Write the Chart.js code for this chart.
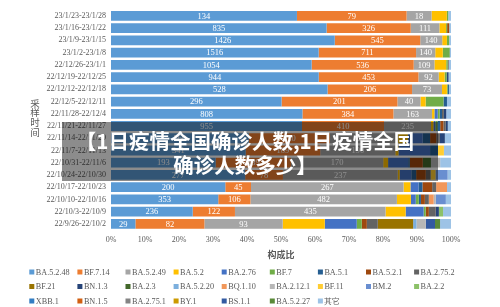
<!DOCTYPE html>
<html><head><meta charset="utf-8">
<script src="https://cdn.jsdelivr.net/npm/chart.js@4.4.0/dist/chart.umd.min.js"></script>
<style>
html,body{margin:0;padding:0;background:#fff;}
#wrap{position:relative;width:500px;height:307px;overflow:hidden;}
#overlay{position:absolute;left:62px;top:122px;width:376px;height:59px;background:rgba(0,0,0,0.45);}
#title{position:absolute;left:0;top:128px;width:490px;text-align:center;color:#fff;font-family:"Noto Sans CJK SC";font-weight:bold;font-size:20.5px;line-height:24px;white-space:nowrap;}
</style></head>
<body>
<div id="wrap">
<canvas id="c" width="500" height="307"></canvas>
<div id="overlay"></div>
<div id="title">【1日疫情全国确诊人数,1日疫情全国<br>确诊人数多少】</div>
</div>
<script>
const categories = ['23/1/23-23/1/28','23/1/16-23/1/22','23/1/9-23/1/15','23/1/2-23/1/8','22/12/26-23/1/1','22/12/19-22/12/25','22/12/12-22/12/18','22/12/5-22/12/11','22/11/28-22/12/4','22/11/21-22/11/27','22/11/14-22/11/20','22/11/7-22/11/13','22/10/31-22/11/6','22/10/24-22/10/30','22/10/17-22/10/23','22/10/10-22/10/16','22/10/3-22/10/9','22/9/26-22/10/2'];
const xTickLabels = ['0%','10%','20%','30%','40%','50%','60%','70%','80%','90%','100%'];

// counts per lineage, rows top to bottom
const BA_5_2_48 = [134,835,1426,1516,1054,944,528,296,808,955,560,341,193,277,200,353,236,29];
const BF_7_14   = [79,326,545,711,536,453,206,201,384,410,330,189,139,78,45,106,122,82];
const BA_5_2_49 = [18,111,140,140,109,92,73,40,163,235,277,190,170,237,267,482,435,93];
const BA_5_2    = [11,26,30,55,62,27,12,9,10,12,40,8,9,4,12,46,58,50];
const BA_2_76   = [0,0,0,0,0,0,0,0,14,10,60,80,37,24,14,16,52,38];
const BF_7      = [1,4,14,50,8,9,2,31,8,10,0,0,0,0,0,10,6,6];
const BA_5_1    = [0,0,0,3,0,0,3,6,10,14,30,20,3,10,7,7,0,0];
const BA_5_2_1  = [0,8,0,0,0,0,0,0,0,16,25,0,24,20,17,13,9,6];
const BA_2_75_2 = [0,0,0,0,5,0,0,0,8,12,15,0,0,10,7,13,20,13];
const BF_21     = [0,0,0,0,0,0,0,0,0,0,0,0,0,0,0,0,0,42];
const BN_1_3    = [0,0,0,0,0,9,0,0,10,10,20,0,0,0,0,0,9,0];
const BA_2_3    = [0,0,0,0,0,0,0,0,0,0,0,0,15,0,0,0,0,0];
const BA_5_2_20 = [0,0,0,0,0,0,0,0,0,0,0,0,0,0,0,0,0,4];
const BQ_1_10   = [0,0,0,0,0,0,0,0,0,0,0,0,0,0,19,16,0,0];
const BA_2_12_1 = [0,0,0,0,0,0,0,0,0,0,0,0,17,0,0,7,0,11];
const BF_11     = [0,0,0,0,0,0,0,0,0,0,0,15,0,10,0,0,0,0];
const BM_2      = [0,0,0,0,0,0,0,0,0,0,0,0,0,25,0,33,0,0];
const BA_2_2    = [0,0,0,0,0,0,0,0,0,0,0,0,0,0,0,0,12,0];
const XBB_1     = [0,0,0,0,0,0,0,0,0,0,0,0,0,0,0,0,0,0];
const BN_1_5    = [0,0,0,0,0,0,0,0,0,0,0,0,0,0,0,0,0,0];
const BA_2_75_1 = [0,0,0,0,0,0,0,0,0,0,0,0,0,0,0,0,0,0];
const BY_1      = [0,0,0,0,0,0,0,0,0,0,0,0,0,0,0,0,0,0];
const BS_1_1    = [0,0,0,0,0,0,0,0,0,0,0,0,0,0,0,0,0,11];
const BA_5_2_27 = [0,0,0,0,0,0,0,0,0,0,0,0,0,0,0,0,0,6];
const OTHER     = [2,7,12,7,12,11,5,7,20,16,25,18,20,7,7,17,23,13];

const seriesNames = ['BA.5.2.48','BF.7.14','BA.5.2.49','BA.5.2','BA.2.76','BF.7','BA.5.1','BA.5.2.1','BA.2.75.2','BF.21','BN.1.3','BA.2.3','BA.5.2.20','BQ.1.10','BA.2.12.1','BF.11','BM.2','BA.2.2','XBB.1','BN.1.5','BA.2.75.1','BY.1','BS.1.1','BA.5.2.27','其它'];
const seriesValues = [BA_5_2_48,BF_7_14,BA_5_2_49,BA_5_2,BA_2_76,BF_7,BA_5_1,BA_5_2_1,BA_2_75_2,BF_21,BN_1_3,BA_2_3,BA_5_2_20,BQ_1_10,BA_2_12_1,BF_11,BM_2,BA_2_2,XBB_1,BN_1_5,BA_2_75_1,BY_1,BS_1_1,BA_5_2_27,OTHER];
const seriesColors = ['#5B9BD5','#ED7D31','#A5A5A5','#FFC000','#4472C4','#70AD47','#255E91','#9E480E','#636363','#997300','#264478','#43682B','#7CAFDD','#F1975A','#B7B7B7','#FFCD33','#698ED0','#8CC168','#327DC2','#D26012','#848484','#CC9A00','#335AA1','#5A8A39','#9DC3E6'];

const totals = categories.map((_, i) => seriesValues.reduce((s, a) => s + a[i], 0));
const datasets = seriesNames.map((name, k) => ({
  label: name,
  data: seriesValues[k].map((v, i) => v / totals[i] * 100),
  backgroundColor: seriesColors[k],
  borderWidth: 0,
  barPercentage: 0.8,
  categoryPercentage: 1.0
}));

const GRAY = '#595959';

const labelPlugin = {
  id: 'segLabels',
  afterDatasetsDraw(chart) {
    const ctx = chart.ctx;
    ctx.save();
    ctx.font = '8.5px "Liberation Serif"';
    ctx.fillStyle = '#ffffff';
    ctx.textAlign = 'center';
    ctx.textBaseline = 'middle';
    for (let k = 0; k < 3; k++) {
      const meta = chart.getDatasetMeta(k);
      meta.data.forEach((bar, i) => {
        const p = bar.getProps(['x', 'y', 'base'], true);
        ctx.fillText(String(seriesValues[k][i]), (p.x + p.base) / 2, p.y + 0.5);
      });
    }
    ctx.restore();
  }
};

const extrasPlugin = {
  id: 'extras',
  afterDraw(chart) {
    const ctx = chart.ctx;
    ctx.save();
    // vertical y-axis title
    ctx.font = '9.5px "Noto Sans CJK SC"';
    ctx.fillStyle = GRAY;
    ctx.textAlign = 'center';
    ctx.textBaseline = 'middle';
    const yt = ['采','样','时','间'];
    yt.forEach((ch, j) => ctx.fillText(ch, 35, 103 + j * 9.7));
    // legend grid
    ctx.font = '8.2px "Liberation Serif"';
    ctx.textAlign = 'left';
    seriesNames.forEach((name, k) => {
      const col = k % 9, row = Math.floor(k / 9);
      const x = 29.3 + 48.1 * col;
      const y = 272 + 14.5 * row;
      ctx.fillStyle = seriesColors[k];
      ctx.fillRect(x, y - 2.5, 5, 5);
      ctx.fillStyle = GRAY;
      ctx.fillText(name, x + 6.5, y + 0.5);
    });
    ctx.restore();
  }
};

new Chart(document.getElementById('c'), {
  type: 'bar',
  data: { labels: categories, datasets },
  options: {
    indexAxis: 'y',
    responsive: false,
    animation: false,
    devicePixelRatio: 1,
    layout: { padding: { top: 6, right: 49, left: 0, bottom: 0 } },
    plugins: { legend: { display: false }, tooltip: { enabled: false } },
    scales: {
      x: {
        stacked: true, min: 0, max: 100,
        grid: { display: false, drawTicks: false },
        border: { display: false },
        ticks: {
          stepSize: 10, padding: 5, color: GRAY, maxRotation: 0,
          font: { family: 'Liberation Serif', size: 8 },
          callback: (v) => xTickLabels[Math.round(v / 10)]
        },
        title: { display: true, text: '构成比', color: GRAY,
          font: { family: 'Noto Sans CJK SC', size: 9, weight: 'bold' },
          padding: { top: 0, bottom: 47 } },
        afterFit: (s) => { s.height = 77; }
      },
      y: {
        stacked: true,
        grid: { display: false, drawTicks: false },
        border: { display: false },
        ticks: { padding: 5, color: GRAY, autoSkip: false,
          font: { family: 'Liberation Serif', size: 8 } },
        afterFit: (s) => { s.width = 111; }
      }
    }
  },
  plugins: [labelPlugin, extrasPlugin]
});
</script>
</body></html>
